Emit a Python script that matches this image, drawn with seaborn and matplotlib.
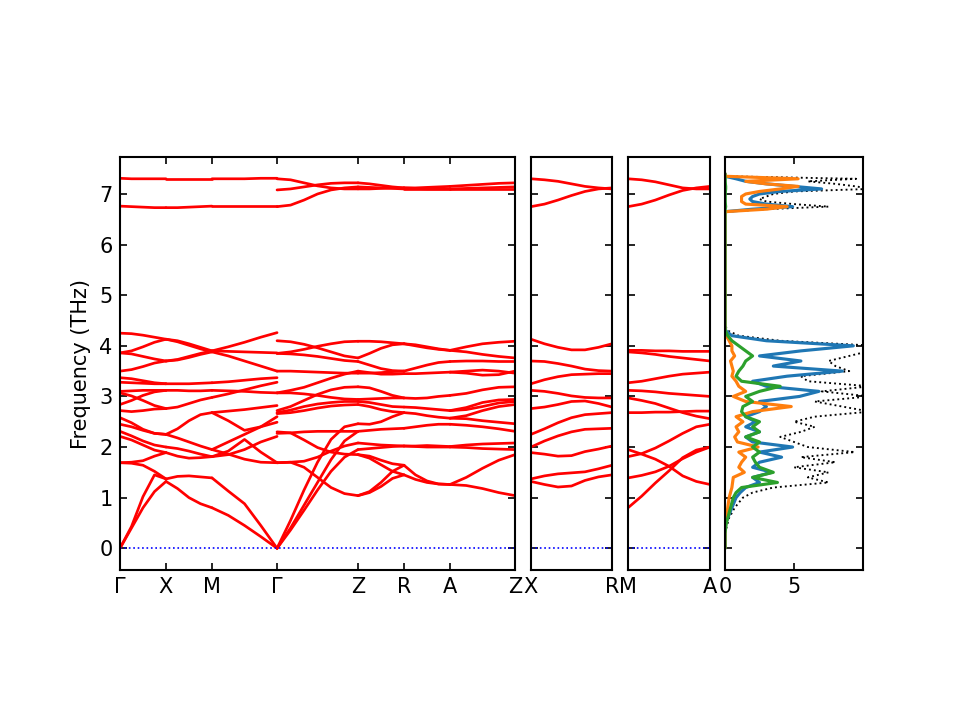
import numpy as np
import pandas as pd
import matplotlib
matplotlib.use("Agg")
import matplotlib.pyplot as plt
import seaborn as sns

sns.set_style("ticks")
plt.rcParams['font.family'] = ['DejaVu Sans']
plt.rcParams['text.color'] = 'black'
plt.rcParams['axes.labelcolor'] = 'black'
plt.rcParams['xtick.color'] = 'black'
plt.rcParams['ytick.color'] = 'black'
plt.rcParams['axes.edgecolor'] = 'black'

# ---------------- band data (THz), sampled evenly along each path segment ----------------
bands_G_X = [
    [4.25, 4.24, 4.21, 4.17, 4.13],
    [3.86, 3.90, 3.98, 4.07, 4.13],
    [3.86, 3.84, 3.79, 3.74, 3.70],
    [3.50, 3.53, 3.59, 3.66, 3.70],
    [3.37, 3.35, 3.31, 3.27, 3.25],
    [3.28, 3.27, 3.26, 3.25, 3.25],
    [3.10, 3.11, 3.12, 3.12, 3.12],
    [3.07, 3.01, 2.92, 2.82, 2.76],
    [2.84, 2.92, 3.02, 3.09, 3.12],
    [2.72, 2.70, 2.72, 2.75, 2.76],
    [2.58, 2.48, 2.35, 2.27, 2.25],
    [2.45, 2.40, 2.33, 2.27, 2.25],
    [2.31, 2.22, 2.12, 2.04, 2.00],
    [2.21, 2.14, 2.04, 1.94, 1.89],
    [1.69, 1.70, 1.73, 1.82, 1.89],
    [1.69, 1.68, 1.64, 1.52, 1.37],
    [0.00, 0.43, 1.02, 1.45, 1.37],
    [0.00, 0.40, 0.80, 1.12, 1.32],
    [7.31, 7.30, 7.30, 7.30, 7.30],
    [6.76, 6.75, 6.74, 6.73, 6.73],
]
bands_X_M = [
    [4.13, 4.10, 4.04, 3.97, 3.90],
    [4.13, 4.08, 4.01, 3.94, 3.88],
    [3.70, 3.73, 3.79, 3.85, 3.90],
    [3.70, 3.72, 3.77, 3.83, 3.88],
    [3.25, 3.25, 3.25, 3.26, 3.27],
    [3.12, 3.12, 3.11, 3.11, 3.12],
    [2.76, 2.79, 2.86, 2.93, 2.98],
    [2.25, 2.36, 2.52, 2.64, 2.68],
    [2.25, 2.18, 2.10, 2.02, 1.95],
    [2.00, 1.97, 1.92, 1.86, 1.81],
    [1.89, 1.82, 1.78, 1.79, 1.81],
    [1.37, 1.42, 1.43, 1.41, 1.39],
    [1.32, 1.18, 1.00, 0.88, 0.80],
    [7.30, 7.30, 7.30, 7.30, 7.30],
    [6.73, 6.73, 6.74, 6.75, 6.76],
]
bands_M_G = [
    [3.90, 3.98, 4.07, 4.17, 4.26],
    [3.90, 3.89, 3.88, 3.87, 3.86],
    [3.88, 3.80, 3.70, 3.60, 3.50],
    [3.27, 3.29, 3.32, 3.35, 3.37],
    [3.12, 3.11, 3.10, 3.08, 3.07],
    [2.98, 3.05, 3.13, 3.21, 3.28],
    [2.68, 2.52, 2.33, 2.40, 2.49],
    [2.68, 2.71, 2.74, 2.78, 2.82],
    [1.95, 2.10, 2.25, 2.40, 2.60],
    [1.81, 1.92, 2.15, 1.90, 1.69],
    [1.81, 1.85, 1.95, 2.10, 2.21],
    [1.95, 1.86, 1.76, 1.70, 1.69],
    [1.39, 1.13, 0.88, 0.45, 0.00],
    [0.80, 0.65, 0.45, 0.23, 0.00],
    [7.30, 7.30, 7.30, 7.31, 7.31],
    [6.76, 6.76, 6.76, 6.76, 6.76],
]
bands_G_Z = [
    [4.10, 4.08, 4.03, 3.96, 3.88, 3.80, 3.76],
    [3.85, 3.88, 3.93, 3.99, 4.04, 4.08, 4.09],
    [3.85, 3.84, 3.82, 3.79, 3.75, 3.71, 3.69],
    [3.50, 3.50, 3.49, 3.48, 3.47, 3.46, 3.46],
    [3.07, 3.12, 3.18, 3.27, 3.36, 3.44, 3.50],
    [3.07, 3.07, 3.05, 3.02, 2.98, 2.95, 2.94],
    [2.72, 2.80, 2.92, 3.04, 3.13, 3.18, 3.19],
    [2.68, 2.73, 2.80, 2.85, 2.88, 2.90, 2.90],
    [2.66, 2.68, 2.72, 2.77, 2.81, 2.83, 2.84],
    [2.27, 2.28, 2.30, 2.31, 2.31, 2.31, 2.31],
    [2.30, 2.28, 2.14, 1.99, 1.90, 1.86, 1.85],
    [1.69, 1.70, 1.72, 1.80, 1.92, 2.02, 2.08],
    [1.69, 1.70, 1.60, 1.40, 1.20, 1.08, 1.04],
    [0.00, 0.55, 1.15, 1.70, 2.15, 2.40, 2.46],
    [0.00, 0.40, 0.85, 1.30, 1.75, 2.12, 2.31],
    [0.00, 0.36, 0.75, 1.15, 1.52, 1.80, 1.95],
    [7.30, 7.28, 7.22, 7.16, 7.12, 7.10, 7.10],
    [7.08, 7.10, 7.14, 7.18, 7.21, 7.22, 7.22],
    [6.75, 6.78, 6.88, 7.00, 7.08, 7.12, 7.14],
]
bands_Z_R = [
    [4.09, 4.09, 4.08, 4.06, 4.04],
    [3.76, 3.85, 3.95, 4.02, 4.04],
    [3.69, 3.62, 3.55, 3.51, 3.50],
    [3.50, 3.47, 3.44, 3.44, 3.45],
    [3.46, 3.46, 3.47, 3.49, 3.50],
    [3.19, 3.17, 3.10, 3.02, 2.97],
    [2.94, 2.95, 2.96, 2.97, 2.97],
    [2.90, 2.88, 2.84, 2.80, 2.79],
    [2.84, 2.80, 2.74, 2.70, 2.68],
    [2.46, 2.45, 2.50, 2.60, 2.68],
    [2.31, 2.33, 2.35, 2.36, 2.37],
    [2.08, 2.06, 2.04, 2.03, 2.02],
    [1.95, 1.97, 1.99, 2.01, 2.02],
    [1.85, 1.82, 1.74, 1.67, 1.64],
    [1.85, 1.78, 1.65, 1.52, 1.45],
    [1.04, 1.12, 1.30, 1.52, 1.64],
    [1.04, 1.10, 1.22, 1.38, 1.45],
    [7.10, 7.10, 7.11, 7.12, 7.12],
    [7.22, 7.20, 7.17, 7.14, 7.12],
    [7.14, 7.13, 7.12, 7.11, 7.10],
]
bands_R_A = [
    [4.04, 4.02, 3.98, 3.94, 3.91],
    [4.04, 4.00, 3.96, 3.93, 3.91],
    [3.50, 3.56, 3.62, 3.67, 3.69],
    [3.45, 3.45, 3.46, 3.47, 3.48],
    [2.97, 2.96, 2.97, 3.00, 3.02],
    [2.79, 2.78, 2.76, 2.74, 2.72],
    [2.68, 2.66, 2.62, 2.59, 2.57],
    [2.37, 2.40, 2.43, 2.45, 2.45],
    [2.02, 2.02, 2.03, 2.02, 2.01],
    [2.02, 2.01, 2.00, 2.00, 2.00],
    [1.64, 1.45, 1.33, 1.27, 1.26],
    [1.45, 1.36, 1.30, 1.27, 1.26],
    [7.12, 7.12, 7.13, 7.14, 7.15],
    [7.12, 7.11, 7.10, 7.10, 7.10],
    [7.10, 7.10, 7.10, 7.10, 7.10],
]
bands_A_Z = [
    [3.91, 3.98, 4.04, 4.07, 4.09],
    [3.91, 3.88, 3.83, 3.79, 3.76],
    [3.69, 3.70, 3.70, 3.69, 3.69],
    [3.48, 3.46, 3.42, 3.43, 3.50],
    [3.48, 3.50, 3.52, 3.50, 3.46],
    [3.02, 3.06, 3.13, 3.18, 3.19],
    [2.72, 2.78, 2.88, 2.93, 2.94],
    [2.72, 2.74, 2.80, 2.87, 2.90],
    [2.57, 2.62, 2.72, 2.80, 2.84],
    [2.57, 2.56, 2.52, 2.49, 2.46],
    [2.45, 2.43, 2.40, 2.36, 2.31],
    [2.01, 2.04, 2.06, 2.07, 2.08],
    [2.00, 1.99, 1.97, 1.96, 1.95],
    [1.26, 1.40, 1.58, 1.74, 1.85],
    [1.26, 1.24, 1.18, 1.10, 1.04],
    [7.15, 7.17, 7.19, 7.21, 7.22],
    [7.10, 7.11, 7.12, 7.13, 7.14],
    [7.10, 7.10, 7.10, 7.10, 7.10],
]
bands_X_R = [
    [4.13, 4.04, 3.97, 3.92, 3.92, 3.97, 4.04],
    [3.70, 3.69, 3.65, 3.60, 3.54, 3.51, 3.50],
    [3.25, 3.33, 3.39, 3.43, 3.44, 3.45, 3.45],
    [3.12, 3.10, 3.06, 3.01, 2.98, 2.97, 2.97],
    [2.76, 2.79, 2.84, 2.90, 2.91, 2.86, 2.79],
    [2.25, 2.36, 2.48, 2.58, 2.64, 2.66, 2.68],
    [2.00, 2.12, 2.22, 2.30, 2.35, 2.36, 2.37],
    [1.89, 1.86, 1.82, 1.83, 1.91, 1.96, 2.02],
    [1.37, 1.43, 1.47, 1.49, 1.51, 1.57, 1.64],
    [1.32, 1.26, 1.21, 1.23, 1.34, 1.41, 1.45],
    [7.30, 7.28, 7.25, 7.20, 7.15, 7.12, 7.10],
    [6.75, 6.80, 6.88, 6.97, 7.05, 7.10, 7.12],
]
bands_M_A = [
    [3.91, 3.91, 3.90, 3.90, 3.89, 3.89, 3.89],
    [3.88, 3.86, 3.83, 3.79, 3.76, 3.73, 3.70],
    [3.27, 3.30, 3.35, 3.40, 3.44, 3.46, 3.48],
    [3.12, 3.11, 3.09, 3.06, 3.04, 3.02, 3.00],
    [2.97, 2.92, 2.86, 2.77, 2.68, 2.61, 2.56],
    [2.68, 2.68, 2.69, 2.69, 2.70, 2.71, 2.71],
    [1.95, 1.86, 1.76, 1.62, 1.43, 1.32, 1.26],
    [1.81, 1.87, 1.98, 2.12, 2.27, 2.40, 2.45],
    [1.39, 1.44, 1.51, 1.62, 1.77, 1.90, 2.00],
    [0.80, 1.03, 1.29, 1.53, 1.79, 1.94, 2.00],
    [7.30, 7.28, 7.24, 7.18, 7.12, 7.10, 7.10],
    [6.75, 6.80, 6.88, 6.98, 7.07, 7.12, 7.15],
]

labels_panel1 = ['Γ', 'X', 'M', 'Γ', 'Z', 'R', 'A', 'Z']
labels_panel2 = ['X', 'R']
labels_panel3 = ['M', 'A']

# ---------------- DOS data ----------------
dos_freq = [0.0, 0.3, 0.4, 0.5, 0.6, 0.7, 0.8, 0.9, 1.0, 1.1, 1.2, 1.3, 1.4, 1.5, 1.6, 1.7,
            1.8, 1.9, 2.0, 2.1, 2.2, 2.3, 2.4, 2.5, 2.6, 2.7, 2.8, 2.9, 3.0, 3.1, 3.2, 3.3,
            3.4, 3.5, 3.6, 3.7, 3.8, 3.9, 4.0, 4.1, 4.2, 4.3, 4.4,
            6.6, 6.65, 6.70, 6.75, 6.80, 6.85, 6.90, 6.95, 7.00, 7.05, 7.10, 7.15, 7.20,
            7.25, 7.30, 7.35, 7.4]
dos_total = [0, 0, 0.1, 0.2, 0.3, 0.5, 0.7, 1.0, 1.3, 2.0, 3.5, 7.5, 6.0, 7.5, 5.0, 8.0,
             5.5, 9.4, 6.0, 5.0, 4.0, 5.5, 6.5, 5.0, 6.5, 10.5, 8.5, 6.5, 10.5, 7.0, 10.5, 6.0,
             5.5, 9.0, 8.0, 7.5, 9.0, 10.5, 11.0, 4.0, 1.0, 0.2, 0,
             0, 0, 3.0, 7.5, 5.0, 3.0, 2.5, 3.0, 3.5, 5.0, 10.5, 9.5, 8.0,
             6.0, 9.5, 0, 0]
dos_p1 = [0, 0, 0, 0.05, 0.2, 0.35, 0.5, 0.65, 0.8, 1.1, 1.5, 2.5, 2.0, 3.4, 2.0, 2.5,
          4.1, 2.5, 4.9, 2.0, 1.5, 2.5, 1.5, 2.2, 1.5, 2.5, 3.0, 2.5, 5.4, 6.8, 3.0, 2.0,
          4.5, 8.5, 3.5, 5.5, 2.5, 5.5, 9.3, 3.0, 0.5, 0.05, 0,
          0, 0, 2.0, 4.9, 3.0, 2.0, 1.8, 2.0, 2.5, 4.0, 7.0, 5.0, 3.0,
          1.5, 0.8, 0, 0]
dos_p2 = [0, 0, 0, 0.05, 0.1, 0.15, 0.2, 0.25, 0.3, 0.4, 0.5, 0.55, 0.6, 1.4, 1.0, 1.2,
          1.5, 1.0, 2.4, 0.9, 0.7, 1.0, 0.8, 1.3, 0.8, 2.0, 4.8, 1.5, 0.6, 1.5, 1.0, 0.8,
          0.5, 0.6, 0.5, 0.4, 0.7, 0.5, 0.5, 0.3, 0.1, 0.02, 0,
          0, 0, 3.0, 4.5, 1.5, 1.2, 1.2, 1.2, 1.5, 2.5, 4.0, 5.3, 3.0,
          1.5, 5.3, 0, 0]
dos_p3 = [0, 0, 0.05, 0.1, 0.2, 0.3, 0.4, 0.5, 0.6, 0.8, 1.2, 3.8, 2.0, 3.5, 2.5, 2.2,
          2.0, 2.5, 2.0, 2.5, 1.5, 2.5, 2.0, 2.5, 1.5, 1.2, 1.3, 2.0, 1.5, 2.5, 4.0, 1.2,
          0.8, 1.0, 1.3, 1.5, 2.0, 1.5, 1.0, 0.5, 0.2, 0.02, 0,
          0, 0, 0.02, 0.05, 0.03, 0.02, 0.02, 0.02, 0.02, 0.03, 0.05, 0.05, 0.03,
          0.02, 0.02, 0, 0]

# ---------------- path geometry ----------------
L_GX = 1.0
L_GZ = 1.76
path1 = [(bands_G_X, L_GX), (bands_X_M, L_GX), (bands_M_G, np.sqrt(2) * L_GX),
         (bands_G_Z, L_GZ), (bands_Z_R, L_GX), (bands_R_A, L_GX), (bands_A_Z, np.sqrt(2) * L_GX)]
path2 = [(bands_X_R, L_GZ)]
path3 = [(bands_M_A, L_GZ)]


def build(path):
    rows = []
    start = 0.0
    uid = 0
    nodes = [0.0]
    for bands, L in path:
        for b in bands:
            ks = start + np.linspace(0, L, len(b))
            for k, f in zip(ks, b):
                rows.append((uid, k, f))
            uid += 1
        start += L
        nodes.append(start)
    return pd.DataFrame(rows, columns=['line', 'k', 'freq']), nodes


fig = plt.figure(figsize=(6.4, 4.8), dpi=150)
bottom, height = 0.2083, 0.5736
ax1 = fig.add_axes([0.1250, bottom, 0.4115, height])
ax2 = fig.add_axes([0.5531, bottom, 0.0844, height])
ax3 = fig.add_axes([0.6542, bottom, 0.0854, height])
ax4 = fig.add_axes([0.7552, bottom, 0.1438, height])

ylim = (-0.43, 7.73)

for ax, path, labels in [(ax1, path1, labels_panel1), (ax2, path2, labels_panel2), (ax3, path3, labels_panel3)]:
    df, nodes = build(path)
    sns.lineplot(data=df, x='k', y='freq', units='line', estimator=None, sort=False,
                 color='red', linewidth=1.3, ax=ax, legend=False)
    ax.axhline(0, color='blue', linestyle=':', linewidth=0.8)
    ax.set_xlim(nodes[0], nodes[-1])
    ax.set_ylim(*ylim)
    ax.set_xticks(nodes)
    ax.set_xticklabels(labels)
    ax.set_yticks(range(0, 8))
    ax.set_xlabel('')
    ax.set_ylabel('')
    ax.tick_params(which='both', direction='in', top=True, right=True, labelsize=10,
                   colors='black')

ax1.set_ylabel('Frequency (THz)', fontsize=10, color='black')
ax2.set_yticklabels([])
ax3.set_yticklabels([])

sns.lineplot(x=dos_total, y=dos_freq, orient='y', sort=False, estimator=None,
             color='black', linestyle=':', linewidth=0.9, ax=ax4)
sns.lineplot(x=dos_p1, y=dos_freq, orient='y', sort=False, estimator=None,
             color='#1f77b4', linewidth=1.5, ax=ax4)
sns.lineplot(x=dos_p2, y=dos_freq, orient='y', sort=False, estimator=None,
             color='#ff7f0e', linewidth=1.5, ax=ax4)
sns.lineplot(x=dos_p3, y=dos_freq, orient='y', sort=False, estimator=None,
             color='#2ca02c', linewidth=1.5, ax=ax4)
ax4.set_xlim(0, 10.0)
ax4.set_ylim(*ylim)
ax4.set_xticks([0, 5])
ax4.set_yticks(range(0, 8))
ax4.set_yticklabels([])
ax4.set_xlabel('')
ax4.set_ylabel('')
ax4.tick_params(which='both', direction='in', top=True, right=True, labelsize=10,
                colors='black')

for ax in (ax1, ax2, ax3, ax4):
    for s in ax.spines.values():
        s.set_color('black')
        s.set_linewidth(1.0)

fig.savefig('out.png', dpi=150)
